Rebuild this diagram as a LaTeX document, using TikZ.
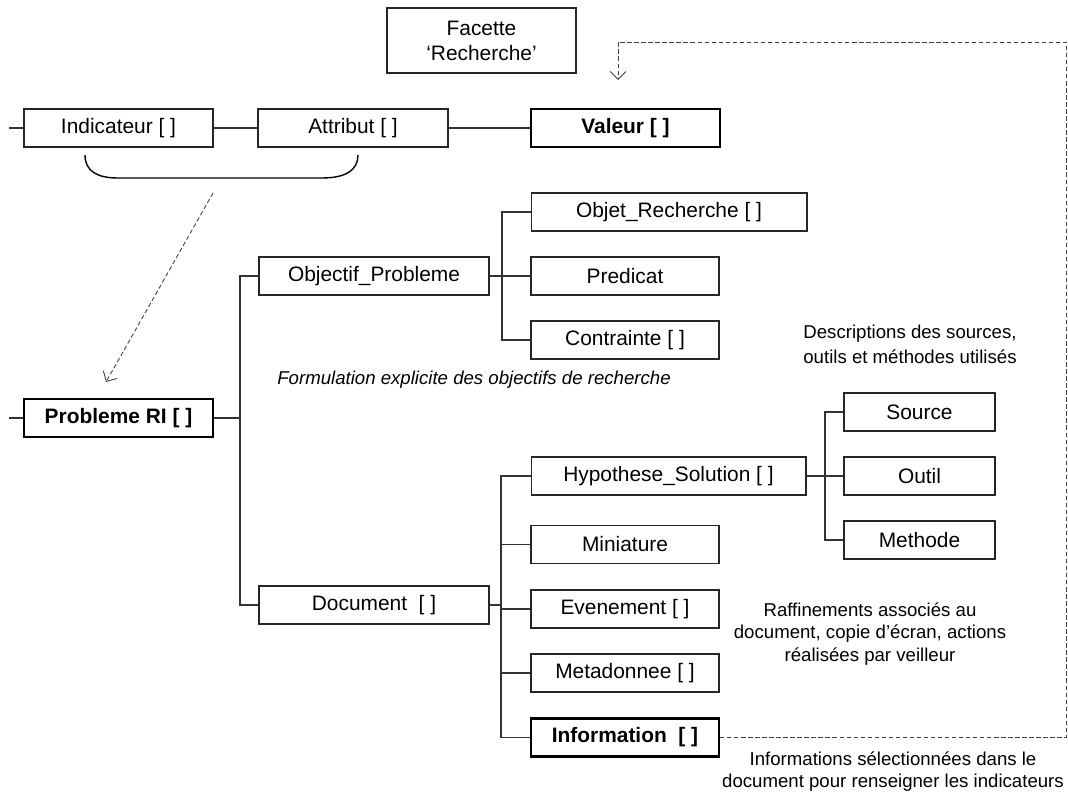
\documentclass[tikz,border=0pt]{standalone}
\usepackage{fontspec}
\setmainfont{Liberation Sans}
\usetikzlibrary{positioning}
\usetikzlibrary{arrows.meta}

\begin{document}
\begin{tikzpicture}[x=0.02cm, y=-0.02cm]

    \tikzset{
        box/.style={
            draw=black!85,
            rectangle,
            line width=0.6pt,
            minimum height=0.76cm,
            minimum width=3.78cm,
            inner sep=0pt,
            font=\fontsize{11.9}{14}\selectfont
        },
        keybox/.style={
            box,
            draw=black,
            line width=1.2pt,
            font=\fontsize{11.9}{14}\selectfont\bfseries
        },
        link/.style={
            draw=black!80,
            line width=0.6pt
        },
        ref/.style={
            draw=black!75,
            line width=0.5pt,
            dash pattern=on 2.5pt off 1.5pt
        },
        note/.style={
            align=center,
            inner sep=0pt,
            font=\fontsize{10.6}{13.5}\selectfont
        }
    }

    \useasboundingbox (0,0) rectangle (1068,794);

    % facette et ligne du haut
    \node[box, minimum height=1.3cm, line width=0.9pt, align=center,
          font=\fontsize{11.9}{14.2}\selectfont] (facette) at (481.5,40.5) {Facette\\‘Recherche’};
    \node[box] (ind) at (118.5,128) {Indicateur [ ]};
    \node[box, minimum width=3.8cm] (att) at (353,128) {Attribut [ ]};
    \node[keybox] (val) at (625.5,128) {Valeur [ ]};
    \coordinate (s1) at (9,128);

    \draw[link] (s1) -- (ind);
    \draw[link] (ind) -- (att);
    \draw[link] (att) -- (val);

    % accolade sous indicateur et attribut
    \draw[line width=0.8pt] (85,155) .. controls (85,171) and (97,178) .. (118,178)
        -- (322,178) .. controls (346,178) and (358,170) .. (358,155);

    % probleme
    \node[keybox] (prob) at (118.5,418) {Probleme RI [ ]};
    \coordinate (s2) at (9,418);
    \coordinate (t1) at (240,418);
    \node[box, minimum width=4.6cm] (objp) at (374,276) {Objectif\_Probleme};
    \node[box, minimum width=4.6cm] (doc) at (374,605) {Document\ \ [ ]};

    \draw[link] (s2) -- (prob);
    \draw[link] (prob) -- (t1);
    \draw[link] (objp.west) -| (t1) |- (doc.west);

    % objectif
    \node[box, minimum width=5.52cm] (objr) at (669,212) {Objet\_Recherche [ ]};
    \node[box, minimum width=3.76cm] (pred) at (625,276) {Predicat};
    \node[box, minimum width=3.76cm] (cont) at (625,340) {Contrainte [ ]};
    \coordinate (t2) at (502,276);

    \draw[link] (objp) -- (pred);
    \draw[link] (objr.west) -| (t2) |- (cont.west);

    % document
    \node[box, minimum width=5.5cm] (hyp) at (668.5,476) {Hypothese\_Solution [ ]};
    \node[box, minimum width=3.76cm] (mini) at (625,544.5) {Miniature};
    \node[box, minimum width=3.76cm] (even) at (625,609) {Evenement [ ]};
    \node[box, minimum width=3.76cm] (meta) at (625,673) {Metadonnee [ ]};
    \node[keybox, minimum width=3.76cm] (info) at (625,737.5) {Information\ \ [ ]};
    \coordinate (t3) at (501,605);

    \draw[link] (doc) -- (t3);
    \draw[link] (hyp.west) -| (t3) |- (info.west);
    \draw[link] (mini.west) -- (mini.west -| t3);
    \draw[link] (even.west) -- (even.west -| t3);
    \draw[link] (meta.west) -- (meta.west -| t3);

    % hypothese
    \node[box, minimum width=3.02cm] (src) at (919.5,412) {Source};
    \node[box, minimum width=3.02cm] (outil) at (919.5,476) {Outil};
    \node[box, minimum width=3.02cm] (meth) at (919.5,540) {Methode};
    \coordinate (t4) at (825,476);

    \draw[link] (hyp) -- (outil);
    \draw[link] (src.west) -| (t4) |- (meth.west);

    % renvois en pointilles
    \coordinate (b1) at (213,193);
    \coordinate (b2) at (106,382);
    \coordinate (r1) at (1066,42);
    \coordinate (r2) at (618,42);
    \coordinate (r3) at (618,80);

    \draw[ref, -{Straight Barb[length=4.5pt, width=9pt]}] (b1) -- (b2);
    \draw[ref, -{Straight Barb[length=4.5pt, width=9pt]}] (info.east) -| (r1) -- (r2) -- (r3);

    % notes
    \node[note, anchor=west, font=\fontsize{10.6}{13.5}\selectfont\itshape] (formul) at (277,380)
        {Formulation explicite des objectifs de recherche};
    \node[note, font=\fontsize{10.6}{14.2}\selectfont] (descr) at (910,344)
        {Descriptions des sources,\\outils et méthodes utilisés};
    \node[note, font=\fontsize{10.6}{13}\selectfont] (raff) at (870,634)
        {Raffinements associés au\\document, copie d’écran, actions\\réalisées par veilleur};
    \node[note, font=\fontsize{10.6}{12.5}\selectfont] (infos) at (893,772)
        {Informations sélectionnées dans le\\document pour renseigner les indicateurs};

\end{tikzpicture}
\end{document}
